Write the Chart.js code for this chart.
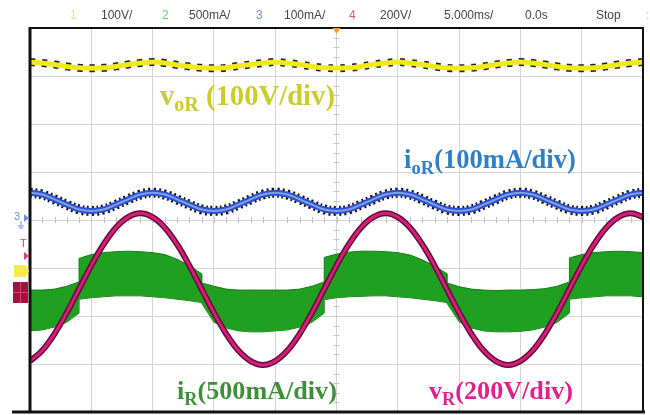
<!DOCTYPE html>
<html><head><meta charset="utf-8">
<script src="https://cdn.jsdelivr.net/npm/chart.js@4.4.1/dist/chart.umd.min.js"></script>
<style>html,body{margin:0;padding:0;background:#fff;overflow:hidden}canvas{display:block}</style>
</head><body>
<canvas id="c" width="650" height="415"></canvas>
<script>
// time axis (ms), 10 div x 5 ms/div
const TIME_MS=[0,1,2,3,4,5,6,7,8,9,10,11,12,13,14,15,16,17,18,19,20,21,22,23,24,25,26,27,28,29,30,31,32,33,34,35,36,37,38,39,40,41,42,43,44,45,46,47,48,49,50];
// screen divisions (-4..4)
const VOR_DIV=[3.29,3.27,3.24,3.20,3.17,3.16,3.17,3.20,3.24,3.27, 3.29,3.27,3.23,3.20,3.17,3.16,3.17,3.21,3.24,3.27, 3.29,3.27,3.24,3.20,3.17,3.16,3.17,3.20,3.24,3.27, 3.29,3.27,3.24,3.20,3.17,3.16,3.17,3.20,3.24,3.27, 3.29,3.27,3.24,3.20,3.17,3.16,3.17,3.20,3.24,3.27,3.29];
const IOR_DIV=[0.57,0.53,0.43,0.32,0.22,0.19,0.22,0.32,0.43,0.53, 0.57,0.53,0.43,0.32,0.22,0.19,0.22,0.32,0.43,0.53, 0.57,0.53,0.43,0.32,0.22,0.19,0.22,0.32,0.43,0.53, 0.57,0.53,0.43,0.32,0.22,0.19,0.22,0.32,0.43,0.53, 0.57,0.53,0.43,0.32,0.22,0.19,0.22,0.32,0.43,0.53,0.57];
const VR_DIV=[-2.94,-2.72,-2.37,-1.93,-1.44,-0.95,-0.51,-0.16,0.06,0.14, 0.06,-0.16,-0.51,-0.95,-1.44,-1.93,-2.37,-2.72,-2.94,-3.02, -2.94,-2.72,-2.37,-1.93,-1.44,-0.95,-0.51,-0.16,0.06,0.14, 0.06,-0.16,-0.51,-0.95,-1.44,-1.93,-2.37,-2.72,-2.94,-3.02, -2.94,-2.72,-2.37,-1.93,-1.44,-0.95,-0.51,-0.16,0.06,0.14,0.06];
// iR switching-ripple envelope (upper / lower edge of the green band)
const IR_T=[0,1,2,3,4, 4,5,6,7,8,9,10,11,12,13,14, 14,15,16,17,18,19,20,21,22,23,24, 24,25,26,27,28,29,30,31,32,33,34, 34,35,36,37,38,39,40,41,42,43,44, 44,45,46,47,48,49,50];
const IR_HI=[-1.46,-1.46,-1.44,-1.38,-1.29,
 -0.80,-0.72,-0.68,-0.66,-0.65,-0.66,-0.68,-0.72,-0.82,-0.95,-1.12,
 -1.31,-1.38,-1.44,-1.46,-1.46,-1.46,-1.46,-1.46,-1.44,-1.38,-1.29,
 -0.78,-0.71,-0.67,-0.65,-0.65,-0.66,-0.68,-0.73,-0.83,-0.96,-1.12,
 -1.31,-1.39,-1.44,-1.46,-1.47,-1.46,-1.46,-1.45,-1.43,-1.38,-1.29,
 -0.79,-0.72,-0.68,-0.66,-0.65,-0.66,-0.68];
const IR_LO=[-2.31,-2.29,-2.23,-2.13,-1.94,
 -1.65,-1.62,-1.60,-1.58,-1.58,-1.58,-1.60,-1.62,-1.65,-1.68,-1.72,
 -1.73,-2.13,-2.25,-2.31,-2.33,-2.33,-2.31,-2.29,-2.23,-2.13,-1.94,
 -1.66,-1.62,-1.60,-1.59,-1.58,-1.58,-1.60,-1.62,-1.65,-1.68,-1.72,
 -1.73,-2.12,-2.25,-2.31,-2.33,-2.33,-2.32,-2.29,-2.23,-2.13,-1.94,
 -1.65,-1.62,-1.60,-1.58,-1.58,-1.58,-1.60];
const HEADER=[['1','#e2e28a'],['100V/','#444'],['2','#6cc96c'],['500mA/','#444'],['3','#6f8fe6'],['100mA/','#444'],['4','#e0508a'],['200V/','#444'],['5.000ms/','#444'],['0.0s','#444'],['Stop','#444'],[':','#f0a0b8']];
const HEADER_X=[70,101,162,189,256,284,349,380,444,525,596,646];

const pts=(xs,ys)=>xs.map((x,i)=>({x:x,y:ys[i]}));

function line(data,color,width,extra){return Object.assign({data:data,borderColor:color,borderWidth:width,pointRadius:0,fill:false,tension:0.4,borderCapStyle:'butt',borderJoinStyle:'round'},extra||{});}

const decor={
 id:'decor',
 beforeDraw(chart){const c=chart.ctx;c.save();c.fillStyle='#fff';c.fillRect(0,0,chart.width,chart.height);c.restore();},
 beforeDatasetsDraw(chart){
  const c=chart.ctx,xs=chart.scales.x,ys=chart.scales.y;
  const cx=xs.getPixelForValue(25),cy=ys.getPixelForValue(0);
  c.save();c.strokeStyle='#c4c4c4';c.lineWidth=1;c.beginPath();
  for(let v=0;v<=50;v+=1){const px=Math.round(xs.getPixelForValue(v))+0.5;c.moveTo(px,cy-3);c.lineTo(px,cy+3);}
  for(let v=-4;v<=4;v+=0.2){const py=Math.round(ys.getPixelForValue(v))+0.5;c.moveTo(cx-3,py);c.lineTo(cx+3,py);}
  c.stroke();c.restore();
 },
 afterDraw(chart){
  const c=chart.ctx,a=chart.chartArea;
  c.save();
  c.strokeStyle='#111';c.lineWidth=2;
  c.beginPath();c.moveTo(a.left,a.top);c.lineTo(a.right,a.top);c.lineTo(a.right,a.bottom);c.stroke();
  c.lineWidth=3;c.beginPath();c.moveTo(a.left,a.top-1);c.lineTo(a.left,a.bottom);c.stroke();
  c.beginPath();c.moveTo(12,a.bottom);c.lineTo(a.right+2,a.bottom);c.stroke();
  const tx=chart.scales.x.getPixelForValue(25);
  c.fillStyle='#f0a030';c.beginPath();c.moveTo(tx-4,a.top);c.lineTo(tx+4,a.top);c.lineTo(tx,a.top+6);c.closePath();c.fill();
  c.font='12px "Liberation Sans Narrow","Liberation Sans",Arial,sans-serif';c.textBaseline='middle';c.textAlign='left';
  HEADER.forEach((h,i)=>{c.fillStyle=h[1];c.fillText(h[0],HEADER_X[i],16);});
  c.fillStyle='#6f8fe6';c.font='11px "Liberation Sans",Arial,sans-serif';c.fillText('3',14,217);
  c.beginPath();c.moveTo(24,214);c.lineTo(29,218);c.lineTo(24,222);c.closePath();c.fill();
  c.strokeStyle='#6f8fe6';c.lineWidth=1;c.beginPath();c.moveTo(21,221);c.lineTo(21,226);c.moveTo(18,226);c.lineTo(24,226);c.moveTo(19,228);c.lineTo(23,228);c.stroke();
  c.fillStyle='#d8408a';c.fillText('T',20,244);
  c.beginPath();c.moveTo(24,252);c.lineTo(29,256);c.lineTo(24,260);c.closePath();c.fill();
  c.fillStyle='#f2ec50';c.beginPath();c.moveTo(14,265);c.lineTo(26,265);c.lineTo(29,271);c.lineTo(26,277);c.lineTo(14,277);c.closePath();c.fill();
  c.fillStyle='#a3123e';c.fillRect(13,282,15,21);
  c.strokeStyle='#c84a70';c.lineWidth=1;c.beginPath();c.moveTo(13,292.5);c.lineTo(28,292.5);c.moveTo(20.5,282);c.lineTo(20.5,303);c.stroke();
  const LBL=[
   {runs:[['v',1,0],['oR',0.7,0.22],[' (100V/div)',1,0]],x:160,y:105,w:175,col:'#cdcb2c'},
   {runs:[['i',1,0],['oR',0.7,0.22],['(100mA/div)',1,0]],x:404,y:168,w:172,col:'#2f7fc2'},
   {runs:[['i',1,0],['R',0.7,0.22],['(500mA/div)',1,0]],x:177,y:399,w:160,col:'#3f8f3a'},
   {runs:[['v',1,0],['R',0.7,0.22],['(200V/div)',1,0]],x:429,y:399,w:144,col:'#e0208c'}];
  c.textBaseline='alphabetic';
  LBL.forEach(L=>{
   let w=0;L.runs.forEach(r=>{c.font='bold '+(100*r[1])+'px "Liberation Serif","Times New Roman",serif';w+=c.measureText(r[0]).width;});
   const fs=100*L.w/w;let x=L.x;c.fillStyle=L.col;
   L.runs.forEach(r=>{c.font='bold '+(fs*r[1])+'px "Liberation Serif","Times New Roman",serif';c.fillText(r[0],x,L.y+fs*r[2]);x+=c.measureText(r[0]).width;});
  });
  c.restore();
 }
};

new Chart(document.getElementById('c'),{
 type:'line',
 data:{datasets:[
  line(pts(TIME_MS,IOR_DIV),'#7aa0f0',2),
  line(pts(TIME_MS,IOR_DIV),'#2f4fcc',6),
  line(pts(TIME_MS,IOR_DIV),'#111',10,{borderDash:[2,3]}),
  line(pts(TIME_MS,VR_DIV),'#d81b7c',3),
  line(pts(TIME_MS,VR_DIV),'#5c1034',6),
  line(pts(IR_T,IR_HI),'#167a16',1,{tension:0,fill:'+1',backgroundColor:'#20a020'}),
  line(pts(IR_T,IR_LO),'#167a16',1,{tension:0}),
  line(pts(TIME_MS,VOR_DIV),'#f0ea1c',5),
  line(pts(TIME_MS,VOR_DIV),'#222',8,{borderDash:[5,7]})
 ]},
 options:{
  responsive:false,animation:false,
  layout:{padding:{left:30,top:28,right:7,bottom:3}},
  plugins:{legend:{display:false},tooltip:{enabled:false},title:{display:false}},
  scales:{
   x:{type:'linear',min:0,max:50,ticks:{display:false,stepSize:5},grid:{color:'#d4d4d4',lineWidth:1,drawTicks:false},border:{display:false}},
   y:{type:'linear',min:-4,max:4,ticks:{display:false,stepSize:1},grid:{color:'#d4d4d4',lineWidth:1,drawTicks:false},border:{display:false}}
  }
 },
 plugins:[decor]
});
</script>
</body></html>
